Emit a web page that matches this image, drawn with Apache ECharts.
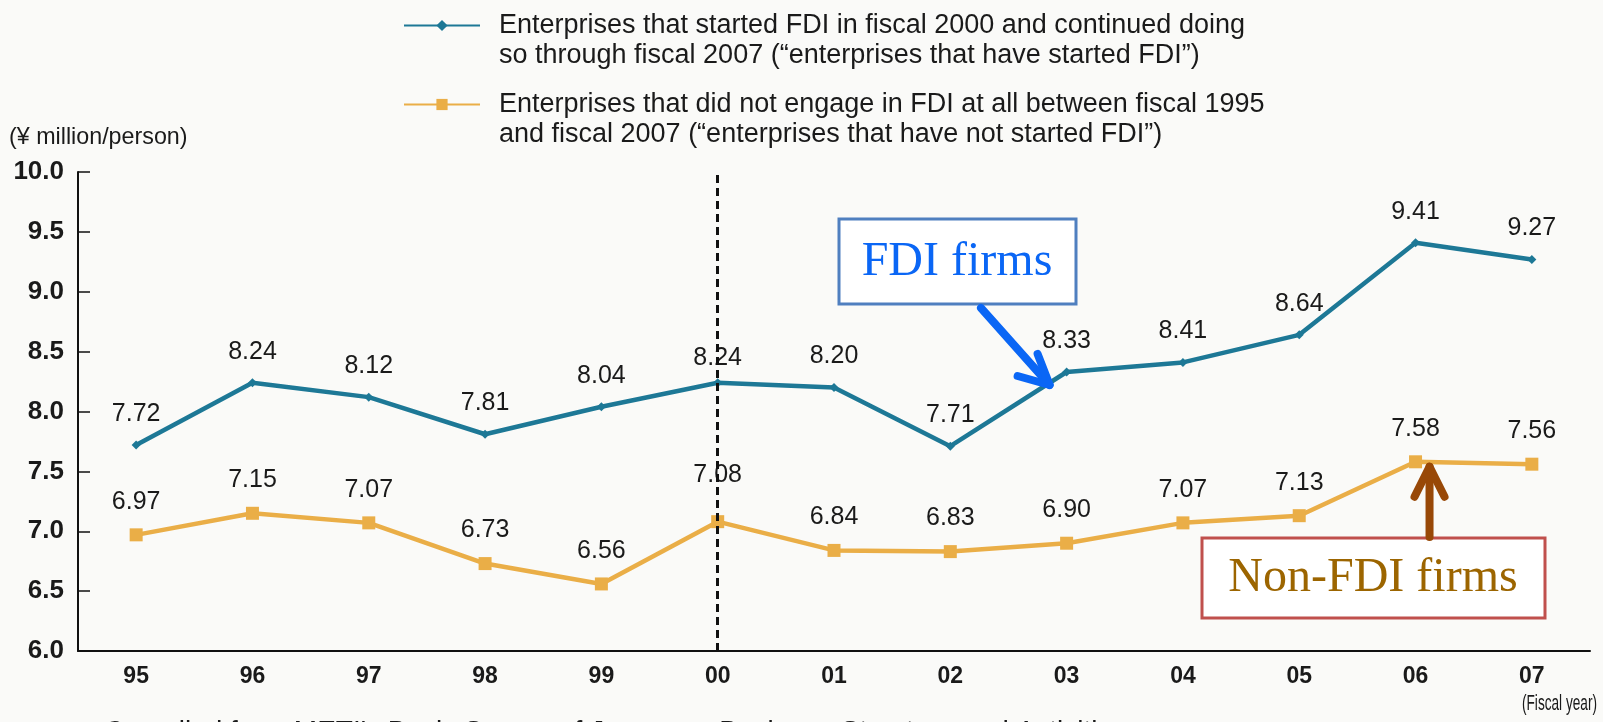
<!DOCTYPE html>
<html>
<head>
<meta charset="utf-8">
<title>FDI firms vs non-FDI firms</title>
<script src="https://cdn.jsdelivr.net/npm/echarts@6/dist/echarts.min.js"></script>
<style>
	html, body { margin: 0; padding: 0; background: #fafaf8; }
	#main { width: 1603px; height: 722px; }
</style>
</head>
<body>
<div id="main"></div>
<script>
// data
var years = ['95', '96', '97', '98', '99', '00', '01', '02', '03', '04', '05', '06', '07'];
var fdiFirms = [7.72, 8.24, 8.12, 7.81, 8.04, 8.24, 8.20, 7.71, 8.33, 8.41, 8.64, 9.41, 9.27];
var nonFdiFirms = [6.97, 7.15, 7.07, 6.73, 6.56, 7.08, 6.84, 6.83, 6.90, 7.07, 7.13, 7.58, 7.56];
var yMin = 6.0;
var yMax = 10.0;
var yStep = 0.5;
var splitYear = '00';

var fdiName = 'Enterprises that started FDI in fiscal 2000 and continued doing\nso through fiscal 2007 (“enterprises that have started FDI”)';
var nonFdiName = 'Enterprises that did not engage in FDI at all between fiscal 1995\nand fiscal 2007 (“enterprises that have not started FDI”)';

var sans = "'Liberation Sans', Arial, Helvetica, sans-serif";
var serif = "'Liberation Serif', 'Times New Roman', serif";

var myChart = echarts.init(document.getElementById('main'));

// a few labels sit a bit higher in the original
function labelled(values, lift) {
	return values.map(function(v, i) {
		if (lift[i]) {
			return { value: v, label: { distance: 14 + lift[i] } };
		}
		return v;
	});
}

var option = {
	backgroundColor: '#fafaf8',
	animation: false,
	grid: {
		left: 78,
		right: 13,
		top: 172,
		bottom: 71
	},
	legend: {
		orient: 'vertical',
		left: 403,
		top: -18,
		padding: 0,
		itemGap: -8,
		itemWidth: 76,
		itemHeight: 14,
		selectedMode: false,
		formatter: function(name) {
			var ls = name.split('\n');
			return '{g| }\n{t|' + ls[0] + '}\n{t|' + ls[1] + '}';
		},
		textStyle: {
			fontFamily: sans,
			fontSize: 27,
			color: '#1a1a1a',
			rich: {
				g: { fontFamily: sans, fontSize: 27, lineHeight: 30 },
				t: { fontFamily: sans, fontSize: 27, lineHeight: 30, color: '#1a1a1a', padding: [0, 0, 0, 14] }
			}
		},
		data: [fdiName, nonFdiName]
	},
	xAxis: {
		type: 'category',
		data: years,
		boundaryGap: true,
		axisLine: { lineStyle: { color: '#111', width: 2 } },
		axisTick: { inside: true, length: 12, lineStyle: { color: '#111', width: 1.5 } },
		axisLabel: { fontFamily: sans, fontSize: 23, fontWeight: 'bold', color: '#1a1a1a', margin: 14 }
	},
	yAxis: {
		type: 'value',
		min: yMin,
		max: yMax,
		interval: yStep,
		splitLine: { show: false },
		axisLine: { show: true, lineStyle: { color: '#111', width: 2 } },
		axisTick: { show: true, inside: true, length: 12, lineStyle: { color: '#111', width: 1.5 } },
		axisLabel: {
			fontFamily: sans, fontSize: 26, fontWeight: 'bold', color: '#1a1a1a', margin: 14,
			formatter: function(v) { return v.toFixed(1); }
		}
	},
	series: [{
		name: fdiName,
		type: 'line',
		data: labelled(fdiFirms, { 5: -6 }),
		symbol: 'diamond',
		symbolSize: 9,
		itemStyle: { color: '#1d7896' },
		lineStyle: { color: '#1d7896', width: 4.5 },
		label: {
			show: true,
			position: 'top',
			distance: 14,
			fontFamily: sans,
			fontSize: 25,
			color: '#1a1a1a',
			formatter: function(p) { return p.value.toFixed(2); }
		},
		markLine: {
			silent: true,
			symbol: 'none',
			label: { show: false },
			lineStyle: { color: '#111', width: 3, type: [8, 5] },
			data: [{ xAxis: splitYear }]
		}
	}, {
		name: nonFdiName,
		type: 'line',
		data: labelled(nonFdiFirms, { 5: 14 }),
		symbol: 'rect',
		symbolSize: 13,
		itemStyle: { color: '#eaae47' },
		lineStyle: { color: '#eaae47', width: 4.5 },
		label: {
			show: true,
			position: 'top',
			distance: 14,
			fontFamily: sans,
			fontSize: 25,
			color: '#1a1a1a',
			formatter: function(p) { return p.value.toFixed(2); }
		}
	}]
};

myChart.setOption(option);

// annotation boxes and arrows, anchored on the data points
var fdiPt = myChart.convertToPixel({ seriesIndex: 0 }, [8, fdiFirms[8]]);
var nonPt = myChart.convertToPixel({ seriesIndex: 1 }, [11, nonFdiFirms[11]]);

var blueTip = [fdiPt[0] - 17, fdiPt[1] + 13];
var brownTip = [nonPt[0] + 14, nonPt[1] + 5];

myChart.setOption({
	graphic: [
		{
			type: 'text', x: 9, y: 125, scaleX: 0.97,
			style: { text: '(¥ million/person)', fontFamily: sans, fontSize: 24, fill: '#1a1a1a' }
		},
		{
			type: 'text', x: 1597, y: 693, scaleX: 0.62,
			style: { text: '(Fiscal year)', fontFamily: sans, fontSize: 22, fill: '#1a1a1a', align: 'right' }
		},
		{
			type: 'text', left: 104, top: 718,
			style: { text: "Compiled from METI's Basic Survey of Japanese Business Structure and Activities", fontFamily: sans, fontSize: 28, fill: '#1a1a1a' }
		},
		// FDI firms box
		{
			type: 'rect', z: 100,
			shape: { x: 839, y: 219, width: 237, height: 85 },
			style: { fill: '#ffffff', stroke: '#4f7fbf', lineWidth: 3 }
		},
		{
			type: 'text', z: 101, x: 957, y: 262,
			style: { text: 'FDI firms', fontFamily: serif, fontSize: 48, fill: '#0a66f5', align: 'center', verticalAlign: 'middle' }
		},
		{
			type: 'line', z: 100,
			shape: { x1: 981, y1: 308, x2: blueTip[0], y2: blueTip[1] },
			style: { stroke: '#0a66f5', lineWidth: 8, lineCap: 'round' }
		},
		{
			type: 'polyline', z: 100,
			shape: { points: [[blueTip[0] - 32, blueTip[1] - 9], blueTip, [blueTip[0] - 12, blueTip[1] - 31]] },
			style: { stroke: '#0a66f5', fill: null, lineWidth: 8, lineCap: 'round', lineJoin: 'round' }
		},
		// Non-FDI firms box
		{
			type: 'rect', z: 100,
			shape: { x: 1202, y: 538, width: 343, height: 80 },
			style: { fill: '#ffffff', stroke: '#c0504d', lineWidth: 3 }
		},
		{
			type: 'text', z: 101, x: 1373, y: 578,
			style: { text: 'Non-FDI firms', fontFamily: serif, fontSize: 48, fill: '#9c6500', align: 'center', verticalAlign: 'middle' }
		},
		{
			type: 'line', z: 100,
			shape: { x1: brownTip[0], y1: 537, x2: brownTip[0], y2: brownTip[1] },
			style: { stroke: '#984807', lineWidth: 8, lineCap: 'round' }
		},
		{
			type: 'polyline', z: 100,
			shape: { points: [[brownTip[0] - 15, brownTip[1] + 30], brownTip, [brownTip[0] + 15, brownTip[1] + 30]] },
			style: { stroke: '#984807', fill: null, lineWidth: 8, lineCap: 'round', lineJoin: 'round' }
		}
	]
});
</script>
</body>
</html>
